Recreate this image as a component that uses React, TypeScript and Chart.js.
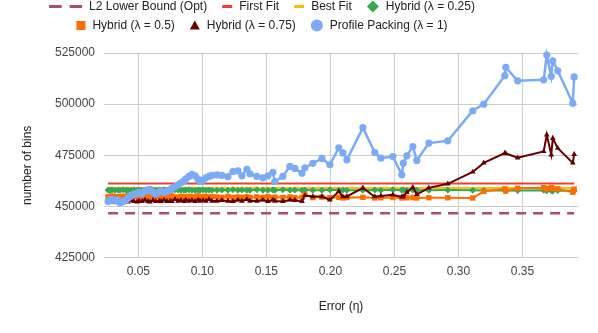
import React, { useEffect, useRef } from 'react';
import { Chart, registerables } from 'chart.js';

Chart.register(...registerables);

const FONT = 'Arial, "Liberation Sans", sans-serif';

// Error (η) values shared by all measured series
const xValues = [
  0.0264, 0.0279, 0.0295, 0.0318, 0.0342, 0.0357, 0.0381, 0.0404, 0.0420, 0.0443,
  0.0466, 0.0490, 0.0505, 0.0529, 0.0552, 0.0576, 0.0591, 0.0615, 0.0638, 0.0662,
  0.0677, 0.0701, 0.0724, 0.0747, 0.0763, 0.0786, 0.0810, 0.0833, 0.0857, 0.0872,
  0.0896, 0.0919, 0.0943, 0.0966, 0.0982, 0.1005, 0.1028, 0.1052, 0.1075,
  0.1114, 0.1153, 0.1200, 0.1239, 0.1278, 0.1309, 0.1348, 0.1372, 0.1426, 0.1473,
  0.1512, 0.1551, 0.1567, 0.1629, 0.1684, 0.1723, 0.1778, 0.1801, 0.1863, 0.1934,
  0.1996, 0.2066, 0.2098, 0.2129, 0.2254, 0.2347, 0.2394, 0.2488, 0.2558, 0.2570,
  0.2597, 0.2644, 0.2675, 0.2769, 0.2917, 0.3112, 0.3198, 0.3362, 0.3370, 0.3463,
  0.3666, 0.3690, 0.3725, 0.3737, 0.3776, 0.3893, 0.3904,
];

const profilePacking = [
  452500, 453200, 453500, 452700, 453200, 451800, 452300, 453200, 454200, 455200,
  456200, 456400, 456900, 456200, 457600, 458100, 458400, 456900, 456200, 457100,
  457600, 456900, 457600, 458100, 458900, 459600, 460600, 461600, 462500, 463500,
  464700, 465700, 465000, 463500, 462300, 462800, 464000, 464700, 465200,
  465500, 465200, 464600, 467100, 467400, 465000, 468200, 466000, 464700, 464000,
  465000, 466700, 462200, 464700, 469600, 468600, 466200, 468900, 471100, 473500,
  470400, 478700, 476200, 472800, 488500, 476400, 473600, 474400, 465500, 471200,
  474800, 479300, 472500, 481000, 482100, 496800, 500000, 513900, 518000, 511400,
  511900, 524000, 513600, 521200, 516300, 500500, 513300,
];

const hybrid075 = [
  452300, 452500, 452300, 452700, 452300, 452500, 452000, 452700, 452300, 453000,
  452500, 452300, 452700, 452500, 453200, 452500, 452300, 453000, 452500, 452700,
  452500, 453200, 452500, 452700, 452500, 453500, 452700, 453000, 452500, 453200,
  452700, 453000, 452500, 453200, 452700, 453000, 452700, 453500, 452700,
  452700, 453000, 452700, 452500, 453200, 452700, 453500, 452700, 452700, 453200,
  452500, 453200, 452700, 452500, 453200, 453000, 452500, 455400, 454900, 454900,
  453200, 457400, 454800, 454900, 459100, 454800, 455200, 455700, 454700, 454800,
  456900, 459400, 455900, 459100, 461100, 466900, 471300, 476100, 475900, 473800,
  476900, 485000, 475300, 483300, 478500, 471300, 475500,
];

const hybrid05 = [
  454900, 454700, 455200, 454700, 454900, 454500, 455000, 454700, 455200, 454600,
  454900, 455200, 454700, 454500, 455000, 454800, 455200, 454600, 454900, 455000,
  454700, 455100, 454600, 454900, 455200, 454700, 454500, 455000, 454800, 454600,
  455000, 454700, 454900, 455200, 454600, 454800, 455000, 454600, 454900,
  454700, 454500, 454900, 454400, 454700, 454500, 454800, 454400, 454700, 454500,
  454800, 454300, 454600, 454400, 454700, 454300, 454500, 455800, 454400, 454600,
  454300, 454500, 454200, 454400, 454500, 454200, 454300, 454400, 454200, 454500,
  454300, 454400, 454200, 454300, 454300, 454200, 457400, 458600, 457600, 458900,
  459200, 458700, 459300, 458800, 458600, 457000, 458500,
];

const hybrid025 = [
  458100, 457900, 458200, 458000, 458100, 457900, 458200, 458000, 458100, 457900,
  458200, 458000, 458100, 458000, 457900, 458200, 458000, 458100, 457900, 458100,
  458000, 458200, 457900, 458100, 458000, 458200, 458100, 457900, 458000, 458100,
  458200, 458000, 457900, 458100, 458000, 458200, 457900, 458100, 458000,
  458000, 458100, 457900, 458200, 458000, 458100, 457900, 458000, 458200, 458000,
  457900, 458100, 458000, 458200, 457900, 458100, 458000, 458100, 458000, 457900,
  458200, 458000, 458100, 457900, 458000, 458100, 458000, 458200, 457900, 458100,
  458000, 458100, 457900, 458000, 458100, 458000, 457800, 457900, 457700, 457800,
  457900, 457700, 457800, 457600, 457800, 457700, 457600,
];

const firstFit = 461300;
const bestFit = 459000;
const l2LowerBound = 446700;

const xTicks = [0.05, 0.1, 0.15, 0.2, 0.25, 0.3, 0.35];
const yTicks = [425000, 450000, 475000, 500000, 525000];

function points(ys: number[]) {
  return xValues.map((x, i) => ({ x, y: ys[i] }));
}
function flatLine(v: number) {
  return [
    { x: xValues[0], y: v },
    { x: xValues[xValues.length - 1], y: v },
  ];
}

function iconWidth(kind: string) {
  switch (kind) {
    case 'dash': return 33;
    case 'line': return 10;
    case 'diamond': return 12;
    case 'square': return 9;
    case 'triangle': return 10;
    default: return 12;
  }
}

function drawIcon(ctx: CanvasRenderingContext2D, ds: any, x: number, y: number) {
  const c = ds.borderColor;
  ctx.fillStyle = c;
  ctx.strokeStyle = c;
  ctx.setLineDash([]);
  switch (ds.legendIcon) {
    case 'dash':
      ctx.lineWidth = 3;
      ctx.beginPath();
      ctx.moveTo(x, y); ctx.lineTo(x + 12.5, y);
      ctx.moveTo(x + 20.5, y); ctx.lineTo(x + 33, y);
      ctx.stroke();
      break;
    case 'line':
      ctx.lineWidth = 3;
      ctx.beginPath();
      ctx.moveTo(x, y); ctx.lineTo(x + 10, y);
      ctx.stroke();
      break;
    case 'diamond':
      ctx.beginPath();
      ctx.moveTo(x + 6, y - 6); ctx.lineTo(x + 12, y);
      ctx.lineTo(x + 6, y + 6); ctx.lineTo(x, y);
      ctx.closePath(); ctx.fill();
      break;
    case 'square':
      ctx.fillRect(x, y - 4.5, 9, 9);
      break;
    case 'triangle':
      ctx.beginPath();
      ctx.moveTo(x + 5, y - 5); ctx.lineTo(x + 10, y + 4); ctx.lineTo(x, y + 4);
      ctx.closePath(); ctx.fill();
      break;
    default:
      ctx.beginPath();
      ctx.arc(x + 6, y, 6, 0, Math.PI * 2);
      ctx.fill();
  }
}

const legendPlugin = {
  id: 'sheetLegend',
  afterDraw(chart: any) {
    const ctx: CanvasRenderingContext2D = chart.ctx;
    const dsets = chart.data.datasets;
    const rows = [[0, 1, 2, 3], [4, 5, 6]];
    const rowY = [6.5, 25.5];
    const centerX = 262;
    const gap = 15;
    const iconGap = 7;
    ctx.save();
    ctx.font = `12px ${FONT}`;
    ctx.textBaseline = 'middle';
    ctx.textAlign = 'left';
    rows.forEach((row, r) => {
      const y = rowY[r];
      const items = row.map((i) => {
        const ds = dsets[i];
        return { ds, w: iconWidth(ds.legendIcon), tw: ctx.measureText(ds.label).width };
      });
      const total = items.reduce((s, it) => s + it.w + iconGap + it.tw, 0) + gap * (items.length - 1);
      let x = centerX - total / 2;
      for (const it of items) {
        drawIcon(ctx, it.ds, x, y);
        x += it.w + iconGap;
        ctx.fillStyle = '#222';
        ctx.fillText(it.ds.label, x, y);
        x += it.tw + gap;
      }
    });
    ctx.restore();
  },
};

export default function App() {
  const canvasRef = useRef<HTMLCanvasElement>(null);

  useEffect(() => {
    Chart.defaults.font.family = FONT;
    Chart.defaults.font.size = 12;
    const datasets: any[] = [
      {
        label: 'L2 Lower Bound (Opt)', data: flatLine(l2LowerBound), borderColor: '#a64d79',
        backgroundColor: '#a64d79', borderWidth: 2.5, borderDash: [10, 7], pointRadius: 0,
        legendIcon: 'dash', order: 6,
      },
      {
        label: 'First Fit', data: flatLine(firstFit), borderColor: '#ea4335',
        backgroundColor: '#ea4335', borderWidth: 2, pointRadius: 0, legendIcon: 'line', order: 5,
      },
      {
        label: 'Best Fit', data: flatLine(bestFit), borderColor: '#fbbc04',
        backgroundColor: '#fbbc04', borderWidth: 2, pointRadius: 0, legendIcon: 'line', order: 4,
      },
      {
        label: 'Hybrid (λ = 0.25)', data: points(hybrid025), borderColor: '#34a853',
        backgroundColor: '#34a853', pointBackgroundColor: '#34a853', pointBorderColor: '#34a853',
        borderWidth: 2, pointBorderWidth: 0, pointStyle: 'rectRot', pointRadius: 3.5,
        legendIcon: 'diamond', order: 3,
      },
      {
        label: 'Hybrid (λ = 0.5)', data: points(hybrid05), borderColor: '#ff6d01',
        backgroundColor: '#ff6d01', pointBackgroundColor: '#ff6d01', pointBorderColor: '#ff6d01',
        borderWidth: 2, pointBorderWidth: 0, pointStyle: 'rect', pointRadius: 3.8,
        legendIcon: 'square', order: 2,
      },
      {
        label: 'Hybrid (λ = 0.75)', data: points(hybrid075), borderColor: '#660000',
        backgroundColor: '#660000', pointBackgroundColor: '#660000', pointBorderColor: '#660000',
        borderWidth: 2, pointBorderWidth: 0, pointStyle: 'triangle', pointRadius: 3.3,
        legendIcon: 'triangle', order: 1,
      },
      {
        label: 'Profile Packing (λ = 1)', data: points(profilePacking), borderColor: '#7baaf7',
        backgroundColor: '#7baaf7', pointBackgroundColor: '#7baaf7', pointBorderColor: '#7baaf7',
        borderWidth: 2.5, pointBorderWidth: 0, pointStyle: 'circle', pointRadius: 3.6,
        legendIcon: 'circle', order: 0,
      },
    ];

    const chart = new Chart(canvasRef.current as HTMLCanvasElement, {
      type: 'line',
      data: { datasets },
      plugins: [legendPlugin],
      options: {
        animation: false,
        responsive: false,
        devicePixelRatio: 1,
        layout: { padding: { top: 53, right: 20, bottom: 0, left: 0 } },
        elements: { line: { tension: 0, fill: false } },
        datasets: { line: { clip: false } } as any,
        plugins: { legend: { display: false }, tooltip: { enabled: false } },
        scales: {
          x: {
            type: 'linear',
            min: 0.0232,
            max: 0.3934,
            afterBuildTicks: (s: any) => { s.ticks = xTicks.map((v) => ({ value: v })); },
            afterFit: (s: any) => { s.height = 75.3; },
            ticks: {
              padding: 7, color: '#444', font: { size: 12 },
              callback: (v: any) => Number(v).toFixed(2),
            },
            grid: { color: '#cccccc', lineWidth: 1, drawTicks: false },
            border: { display: false },
            title: {
              display: true, text: 'Error (η)', color: '#222', font: { size: 12 },
              padding: { top: 0, bottom: 19 },
            },
          },
          y: {
            type: 'linear',
            min: 425000,
            max: 525000,
            afterBuildTicks: (s: any) => { s.ticks = yTicks.map((v) => ({ value: v })); },
            afterFit: (s: any) => { s.width = 104; },
            ticks: {
              padding: 9, color: '#444', font: { size: 12 },
              callback: (v: any) => String(v),
            },
            grid: { color: '#cccccc', lineWidth: 1, drawTicks: false },
            border: { display: false },
            title: {
              display: true, text: 'number of bins      ', color: '#222', font: { size: 12 },
              padding: { top: 20, bottom: 0 },
            },
          },
        },
      },
    } as any);
    return () => chart.destroy();
  }, []);

  return (
    <div style={{ position: 'fixed', left: 0, top: 0, width: 598, height: 333, background: '#fff' }}>
      <canvas ref={canvasRef} width={598} height={333} style={{ display: 'block' }} />
    </div>
  );
}
